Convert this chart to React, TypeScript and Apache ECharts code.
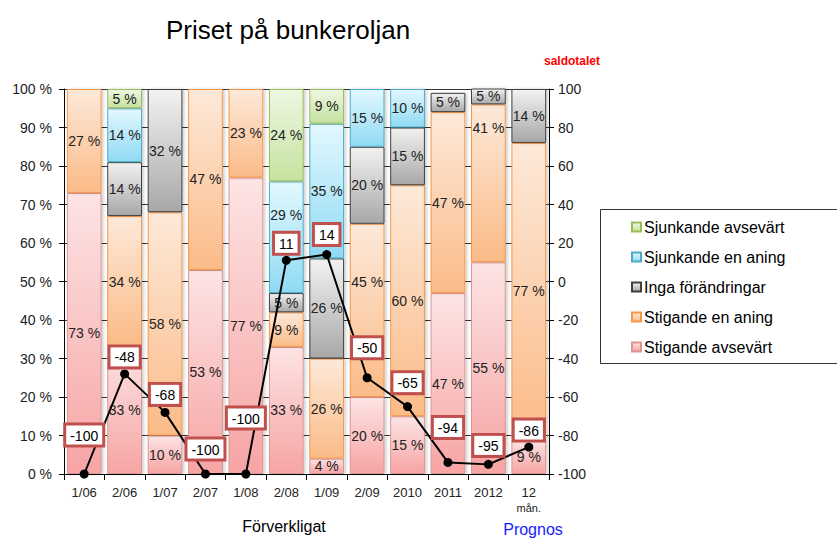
import React, { useEffect, useRef } from "react";
import * as echarts from "echarts";

const categories = ["1/06", "2/06", "1/07", "2/07", "1/08", "2/08", "1/09", "2/09", "2010", "2011", "2012", "12\nmån."];
const stigandeAvsevart = [73, 33, 10, 53, 77, 33, 4, 20, 15, 47, 55, 9];
const stigandeEnAning = [27, 34, 58, 47, 23, 9, 26, 45, 60, 47, 41, 77];
const ingaForandringar = [0, 14, 32, 0, 0, 5, 26, 20, 15, 5, 5, 14];
const sjunkandeEnAning = [0, 14, 0, 0, 0, 29, 35, 15, 10, 0, 0, 0];
const sjunkandeAvsevart = [0, 5, 0, 0, 0, 24, 9, 0, 0, 0, 0, 0];
const saldotalet = [-100, -48, -68, -100, -100, 11, 14, -50, -65, -94, -95, -86];
const leftTicks = [0, 10, 20, 30, 40, 50, 60, 70, 80, 90, 100];
const rightTicks = [-100, -80, -60, -40, -20, 0, 20, 40, 60, 80, 100];

const FONT = "Liberation Sans, Arial, sans-serif";

export default function App() {
  const ref = useRef<HTMLDivElement>(null);
  useEffect(() => {
    document.body.style.margin = "0";
    if (!ref.current) return;
    const chart = echarts.init(ref.current, undefined, { renderer: "svg" });
    const grad = (top: string, bottom: string) =>
      new echarts.graphic.LinearGradient(0, 0, 0, 1, [
        { offset: 0, color: top },
        { offset: 1, color: bottom },
      ]);
    // label nudges (style only): series name -> category index -> [dx, dy]
    const labelNudge: Record<string, Record<number, number[]>> = {
      "Sjunkande en aning": { 5: [0, -22] },
      "Stigande en aning": { 7: [0, -28], 10: [0, -55] },
    };
    const barSeries = (name: string, data: number[], top: string, bottom: string, border: string) => ({
      name,
      type: "bar",
      stack: "a",
      data: data.map((v, i) =>
        labelNudge[name] && labelNudge[name][i]
          ? { value: v, label: { offset: labelNudge[name][i] } }
          : v
      ),
      barCategoryGap: "14%",
      itemStyle: {
        color: grad(top, bottom),
        borderColor: border,
        borderWidth: 1,
        shadowColor: "rgba(0,0,0,0.18)",
        shadowBlur: 3,
        shadowOffsetX: 2,
      },
      label: {
        show: true,
        position: "inside",
        formatter: (p: any) => (p.value > 0 ? p.value + " %" : ""),
        color: "#222",
        fontSize: 14,
        fontFamily: FONT,
      },
    });
    const labelLift = [25, 3, 4, 11, 42, 3, 6, 16, 10, 21, 5, 3];
    chart.setOption({
      animation: false,
      textStyle: { fontFamily: FONT },
      title: {
        text: "Priset på bunkeroljan",
        left: 283,
        textAlign: "center",
        top: 12,
        textStyle: { fontSize: 26, fontWeight: "normal", color: "#000", fontFamily: FONT },
      },
      graphic: [
        {
          type: "rect",
          shape: { x: 600.5, y: 209.5, width: 260, height: 154 },
          style: { fill: "#fff", stroke: "#333", lineWidth: 1 },
          z: 0,
        },
        {
          type: "text",
          x: 572,
          y: 61,
          style: {
            text: "saldotalet",
            fill: "#ff0000",
            font: "bold 12px " + FONT,
            textAlign: "center",
            textVerticalAlign: "middle",
          },
        },
        {
          type: "text",
          x: 284,
          y: 526,
          style: {
            text: "Förverkligat",
            fill: "#000",
            font: "16px " + FONT,
            textAlign: "center",
            textVerticalAlign: "middle",
          },
        },
        {
          type: "text",
          x: 533,
          y: 529,
          style: {
            text: "Prognos",
            fill: "#1a1aff",
            font: "16px " + FONT,
            textAlign: "center",
            textVerticalAlign: "middle",
          },
        },
      ],
      legend: {
        orient: "vertical",
        left: 626,
        top: 214,
        itemWidth: 9,
        itemHeight: 9,
        itemGap: 14,
        icon: "rect",
        data: [
          "Sjunkande avsevärt",
          "Sjunkande en aning",
          "Inga förändringar",
          "Stigande en aning",
          "Stigande avsevärt",
        ],
        textStyle: { fontSize: 16, color: "#000", fontFamily: FONT, padding: [0, 0, 0, -2] },
        z: 5,
      },
      grid: { left: 64, right: 288, top: 89, bottom: 64 },
      xAxis: {
        type: "category",
        data: categories,
        axisLine: { lineStyle: { color: "#000", width: 1 } },
        axisTick: { show: true, length: 6, lineStyle: { color: "#000" } },
        axisLabel: {
          interval: 0,
          color: "#222",
          fontSize: 13,
          margin: 10,
          fontFamily: FONT,
          formatter: (v: string) => {
            const parts = v.split("\n");
            return parts.length > 1 ? parts[0] + "\n{s|" + parts[1] + "}" : v;
          },
          rich: { s: { fontSize: 11, color: "#222", fontFamily: FONT, lineHeight: 16 } },
          lineHeight: 16,
        },
      },
      yAxis: [
        {
          type: "value",
          min: leftTicks[0],
          max: leftTicks[leftTicks.length - 1],
          interval: 10,
          axisLine: { show: true, lineStyle: { color: "#000" } },
          axisTick: { show: true, length: 5, lineStyle: { color: "#000" } },
          splitLine: { show: true, lineStyle: { color: "#333", width: 1 } },
          axisLabel: { formatter: "{value} %", color: "#222", fontSize: 14, margin: 12, fontFamily: FONT },
        },
        {
          type: "value",
          min: rightTicks[0],
          max: rightTicks[rightTicks.length - 1],
          interval: 20,
          axisLine: { show: true, lineStyle: { color: "#000" } },
          axisTick: { show: true, length: 5, lineStyle: { color: "#000" } },
          splitLine: { show: false },
          axisLabel: { color: "#222", fontSize: 14, margin: 9, fontFamily: FONT },
        },
      ],
      series: [
        barSeries("Stigande avsevärt", stigandeAvsevart, "#fde4e4", "#f7a4a4", "#d99694"),
        barSeries("Stigande en aning", stigandeEnAning, "#fde9d9", "#fbbb88", "#f79646"),
        barSeries("Inga förändringar", ingaForandringar, "#f2f2f2", "#a8a8a8", "#404040"),
        barSeries("Sjunkande en aning", sjunkandeEnAning, "#e3f8fe", "#90daf4", "#4bacc6"),
        barSeries("Sjunkande avsevärt", sjunkandeAvsevart, "#eef7e2", "#c4e3a0", "#9bbb59"),
        {
          name: "saldotalet",
          type: "line",
          yAxisIndex: 1,
          z: 10,
          data: saldotalet.map((v, i) => ({
            value: v,
            label: { distance: labelLift[i] },
          })),
          symbol: "circle",
          symbolSize: 9,
          lineStyle: { color: "#000", width: 2 },
          itemStyle: { color: "#000" },
          label: {
            show: true,
            position: "top",
            color: "#000",
            fontSize: 14,
            fontFamily: FONT,
            backgroundColor: "#fff",
            borderColor: "#c0504d",
            borderWidth: 3,
            padding: [3, 4, 2, 4],
          },
        },
      ],
    });
    return () => chart.dispose();
  }, []);
  return <div ref={ref} style={{ width: 837, height: 538 }} />;
}
